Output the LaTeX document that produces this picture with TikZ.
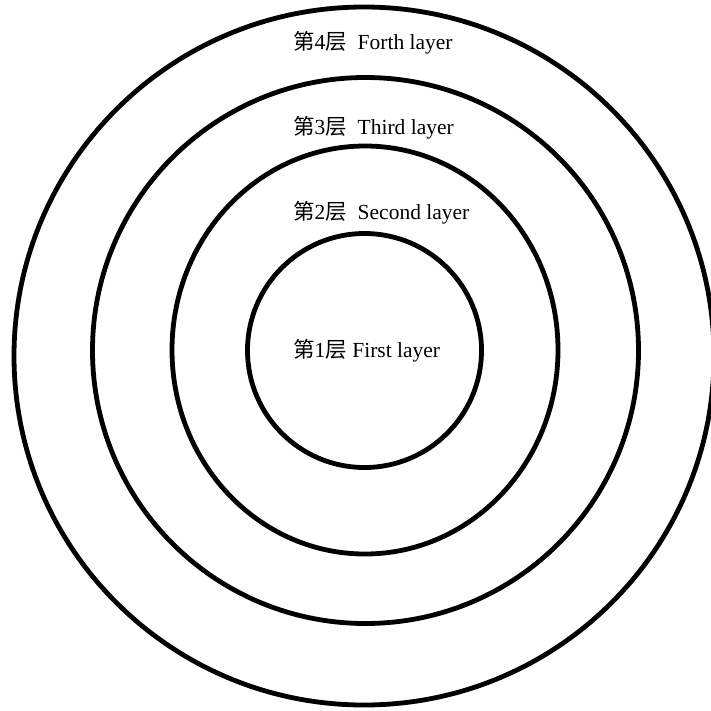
\documentclass[tikz,border=0pt]{standalone}
\usepackage{fontspec}
\setmainfont{Liberation Serif}
\newfontfamily\cjk{Noto Sans CJK SC}
\begin{document}
\begin{tikzpicture}[x=1pt,y=-1pt,
  ring/.style={line width=4.8pt,draw=black},
  lbl/.style={anchor=west,inner sep=0pt,font=\fontsize{21.5}{25}\selectfont}]
\useasboundingbox (0,0) rectangle (711,710);
\begin{scope}
\clip (0,0) rectangle (711,710);
\draw[ring] (364,356) ellipse [x radius=350, y radius=349];
\end{scope}
\draw[ring] (365.5,350.5) circle [radius=273];
\draw[ring] (365,350) ellipse [x radius=193, y radius=204];
\draw[ring] (364.5,350.5) circle [radius=117];
\node[lbl] (l4) at (293,43) {{\cjk 第}4{\cjk 层}\ \ Forth layer};
\node[lbl] (l3) at (293,128) {{\cjk 第}3{\cjk 层}\ \ Third layer};
\node[lbl] (l2) at (293,213) {{\cjk 第}2{\cjk 层}\ \ Second layer};
\node[lbl] (l1) at (293,351) {{\cjk 第}1{\cjk 层} First layer};
\end{tikzpicture}
\end{document}
